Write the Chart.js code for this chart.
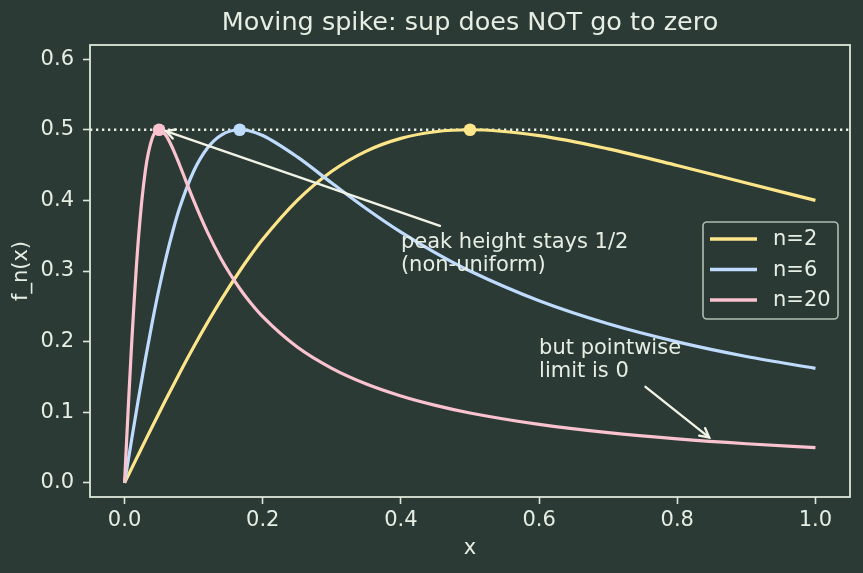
<!DOCTYPE html>
<html>
<head>
<meta charset="utf-8">
<script src="https://cdn.jsdelivr.net/npm/chart.js@4"></script>
<style>
  html, body { margin: 0; padding: 0; background: #2b3a34; }
  canvas { display: block; }
</style>
</head>
<body>
<canvas id="c" width="863" height="573"></canvas>
<script>
// ---- data ----
const xs   = [0, 0.005, 0.01, 0.02, 0.03, 0.04, 0.05, 0.06, 0.07, 0.08, 0.1, 0.12, 0.14, 0.1667, 0.18, 0.2, 0.25, 0.3, 0.35, 0.4, 0.45, 0.5, 0.6, 0.7, 0.8, 0.9, 1.0];
const f2   = [0, 0.0100, 0.0200, 0.0399, 0.0598, 0.0795, 0.0990, 0.1183, 0.1373, 0.1560, 0.1923, 0.2269, 0.2596, 0.3000, 0.3187, 0.3448, 0.4000, 0.4412, 0.4698, 0.4878, 0.4972, 0.5000, 0.4918, 0.4730, 0.4494, 0.4245, 0.4000];
const f6   = [0, 0.0300, 0.0598, 0.1183, 0.1744, 0.2269, 0.2752, 0.3187, 0.3570, 0.3901, 0.4412, 0.4742, 0.4925, 0.5000, 0.4985, 0.4918, 0.4615, 0.4245, 0.3882, 0.3550, 0.3257, 0.3000, 0.2579, 0.2253, 0.1997, 0.1790, 0.1622];
const f20  = [0, 0.0990, 0.1923, 0.3448, 0.4412, 0.4878, 0.5000, 0.4918, 0.4730, 0.4494, 0.4000, 0.3550, 0.3167, 0.2752, 0.2579, 0.2353, 0.1923, 0.1622, 0.1400, 0.1231, 0.1098, 0.0990, 0.0828, 0.0711, 0.0623, 0.0554, 0.0499];
const seriesNames = ['n=2', 'n=6', 'n=20'];
const peakX = [0.5, 0.1667, 0.05];
const peakY = [0.5, 0.5, 0.5];
const refX = [-0.05, 1.05];
const refY = [0.5, 0.5];
const xTicks = [0, 0.2, 0.4, 0.6, 0.8, 1.0];
const yTicks = [0, 0.1, 0.2, 0.3, 0.4, 0.5, 0.6];
const titleText = 'Moving spike: sup does NOT go to zero';
const xLabel = 'x';
const yLabel = 'f_n(x)';
const notes = [
  { lines: ['peak height stays 1/2', '(non-uniform)'], textAt: [0.4, 0.3],  from: [0.4565, 0.364], to: [0.060, 0.498] },
  { lines: ['but pointwise', 'limit is 0'],          textAt: [0.6, 0.15], from: [0.754, 0.136],  to: [0.846, 0.0644] }
];

// ---- styles ----
const BG = '#2b3a34';
const FG = '#e6eee4';
const SPINE = '#dde8da';
const COLORS = ['#fde68a', '#bfdbfe', '#fbc3cf'];
const FONT = "'DejaVu Sans', sans-serif";
const FS = 21;

const allSeries = [f2, f6, f20];
const pts = (xa, ya) => xa.map((x, i) => ({ x: x, y: ya[i] }));

const datasets = [{
  label: 'ref',
  data: pts(refX, refY),
  borderColor: FG,
  borderWidth: 2.3,
  borderDash: [2.3, 3.7],
  pointRadius: 0,
  order: 10
}];
allSeries.forEach((ys, k) => {
  datasets.push({
    label: seriesNames[k],
    data: pts(xs, ys),
    borderColor: COLORS[k],
    backgroundColor: COLORS[k],
    borderWidth: 3.2,
    cubicInterpolationMode: 'monotone',
    pointRadius: 0,
    order: 5 - k
  });
  datasets.push({
    label: seriesNames[k] + ' peak',
    type: 'scatter',
    data: pts([peakX[k]], [peakY[k]]),
    backgroundColor: COLORS[k],
    borderColor: COLORS[k],
    borderWidth: 0,
    pointRadius: 6.3,
    order: 5 - k - 0.5
  });
});

const decor = {
  id: 'decor',
  beforeDraw(chart) {
    const c = chart.ctx;
    c.save();
    c.fillStyle = BG;
    c.fillRect(0, 0, chart.width, chart.height);
    c.restore();
  },
  afterDatasetsDraw(chart) {
    const c = chart.ctx, a = chart.chartArea;
    const sx = chart.scales.x, sy = chart.scales.y;
    c.save();
    // spines
    c.strokeStyle = SPINE;
    c.lineWidth = 1.8;
    c.strokeRect(a.left, a.top, a.right - a.left, a.bottom - a.top);

    // annotations
    c.fillStyle = FG;
    c.font = FS + 'px ' + FONT;
    c.textAlign = 'left';
    c.textBaseline = 'alphabetic';
    notes.forEach(n => {
      const tx = sx.getPixelForValue(n.textAt[0]);
      const ty = sy.getPixelForValue(n.textAt[1]);
      const L = n.lines.length;
      n.lines.forEach((t, i) => c.fillText(t, tx, ty - (L - 1 - i) * 22.8));
      const x0 = sx.getPixelForValue(n.from[0]), y0 = sy.getPixelForValue(n.from[1]);
      const x1 = sx.getPixelForValue(n.to[0]),   y1 = sy.getPixelForValue(n.to[1]);
      c.strokeStyle = '#f1f3e6';
      c.lineWidth = 2.4;
      c.lineCap = 'round';
      c.beginPath(); c.moveTo(x0, y0); c.lineTo(x1, y1); c.stroke();
      const ang = Math.atan2(y1 - y0, x1 - x0);
      const hl = 10, hw = 0.5;
      c.beginPath();
      c.moveTo(x1 - hl * Math.cos(ang - hw), y1 - hl * Math.sin(ang - hw));
      c.lineTo(x1, y1);
      c.lineTo(x1 - hl * Math.cos(ang + hw), y1 - hl * Math.sin(ang + hw));
      c.stroke();
    });

    // legend (inside the axes, right side)
    const bx = a.right - 147, by = a.top + 177, bw = 135, bh = 97;
    c.fillStyle = 'rgba(43,58,52,0.8)';
    c.strokeStyle = 'rgba(221,232,218,0.75)';
    c.lineWidth = 1.6;
    c.beginPath();
    c.roundRect(bx, by, bw, bh, 4);
    c.fill(); c.stroke();
    c.font = FS + 'px ' + FONT;
    c.textBaseline = 'middle';
    seriesNames.forEach((name, k) => {
      const yy = by + 17 + k * 30.5;
      c.strokeStyle = COLORS[k];
      c.lineWidth = 3.5;
      c.lineCap = 'butt';
      c.beginPath(); c.moveTo(bx + 7, yy); c.lineTo(bx + 54, yy); c.stroke();
      c.fillStyle = FG;
      c.fillText(name, bx + 70, yy + 1);
    });
    c.restore();
  }
};

new Chart(document.getElementById('c'), {
  type: 'line',
  data: { datasets: datasets },
  options: {
    responsive: false,
    animation: false,
    devicePixelRatio: 1,
    layout: { padding: { left: 0, right: 13, top: 0, bottom: 0 } },
    plugins: {
      legend: { display: false },
      tooltip: { enabled: false },
      title: {
        display: true,
        fullSize: false,
        text: titleText,
        color: FG,
        font: { family: FONT, size: 25.5, weight: 'normal' },
        padding: { top: 8, bottom: 6.4 }
      }
    },
    scales: {
      x: {
        type: 'linear',
        min: -0.05, max: 1.05,
        afterFit: s => { s.height = 76; },
        afterBuildTicks: s => { s.ticks = xTicks.map(v => ({ value: v })); },
        ticks: {
          color: FG, padding: 4.4,
          font: { family: FONT, size: FS },
          callback: v => Number(v).toFixed(1)
        },
        grid: { drawOnChartArea: false, drawTicks: true, tickLength: 7, tickWidth: 1.6, tickColor: SPINE, color: SPINE },
        border: { display: false },
        title: { display: true, text: xLabel, color: FG, font: { family: FONT, size: FS }, padding: { top: 0, bottom: 11.4 } }
      },
      y: {
        type: 'linear',
        min: -0.02, max: 0.62,
        afterFit: s => { s.width = 90; },
        afterBuildTicks: s => { s.ticks = yTicks.map(v => ({ value: v })); },
        ticks: {
          color: FG, padding: 9,
          font: { family: FONT, size: FS },
          callback: v => Number(v).toFixed(1)
        },
        grid: { drawOnChartArea: false, drawTicks: true, tickLength: 7, tickWidth: 1.6, tickColor: SPINE, color: SPINE },
        border: { display: false },
        title: { display: true, text: yLabel, color: FG, font: { family: FONT, size: FS }, padding: { top: 8.9, bottom: 0 } }
      }
    }
  },
  plugins: [decor]
});
</script>
</body>
</html>
